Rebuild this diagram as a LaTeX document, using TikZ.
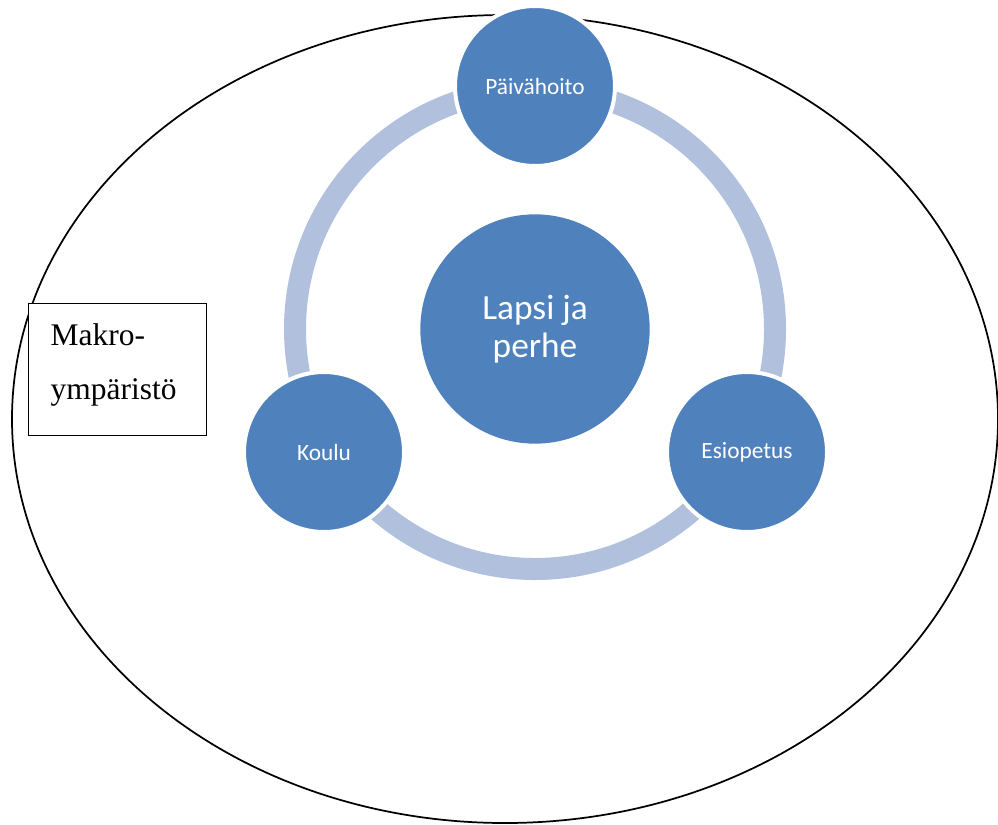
\documentclass[tikz,border=0pt]{standalone}
\usepackage{fontspec}
\setmainfont{Liberation Serif}
\newfontfamily\smartfont{Carlito}
\usetikzlibrary{shapes.geometric}
\definecolor{discblue}{RGB}{79,129,189}
\definecolor{ringblue}{RGB}{176,192,221}
\tikzset{
  disc/.style={circle,fill=discblue,draw=white,line width=3pt,minimum size=120pt,inner sep=0pt,
    text=white,font=\smartfont\fontsize{17.5}{21}\selectfont},
  bigdisc/.style={disc,draw=none,minimum size=172pt,align=center,font=\smartfont\fontsize{26.5}{28.5}\selectfont}
}

\begin{document}
\begin{tikzpicture}[x=0.75pt,y=-0.75pt]
\useasboundingbox (0,0) rectangle (998,824);
% outer environment
\node (env) [ellipse,draw=black,line width=1.3pt,minimum width=739.5pt,minimum height=606pt,inner sep=0pt] at (505,419) {};
\node (makro) [rectangle,draw=black,fill=white,line width=1pt,anchor=north west,
  text width=100.5pt,inner xsep=16.5pt,minimum height=99pt,text depth=53pt,align=left,
  font=\fontsize{23.6}{41}\selectfont] at (28,303) {Makro-\\ympäristö};
%
\node (lapsi) [bigdisc] at (535,329) {Lapsi ja\\perhe};
\draw[ringblue,line width=16.5pt] (lapsi.center) circle (180pt);
\node (paiva) [disc] at (535,86) {Päivähoito};
\node (koulu) [disc] at (324,452) {Koulu};
\node (esio) [disc] at (747,452) {Esiopetus};
\end{tikzpicture}
\end{document}
